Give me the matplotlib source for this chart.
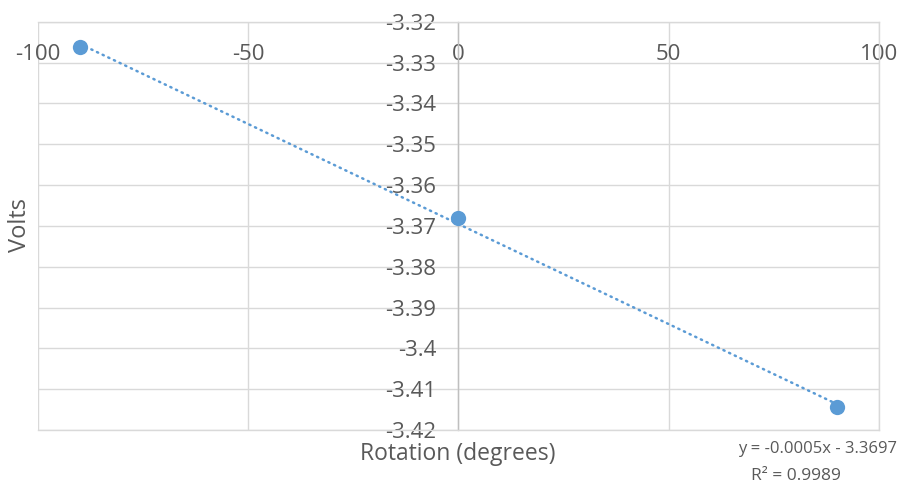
import numpy as np
import matplotlib
matplotlib.use("Agg")
import matplotlib.pyplot as plt

# Measured rotation angle vs. output voltage
rotation_deg = [-90, 0, 90]
volts = [-3.3262, -3.3681, -3.4144]

x_ticks = [-100, -50, 0, 50, 100]
y_ticks = [-3.32, -3.33, -3.34, -3.35, -3.36, -3.37, -3.38, -3.39, -3.40, -3.41, -3.42]
y_tick_labels = ["-3.32", "-3.33", "-3.34", "-3.35", "-3.36", "-3.37", "-3.38",
                 "-3.39", "-3.4", "-3.41", "-3.42"]

blue = "#5B9BD5"
text_gray = "#595959"
grid_gray = "#D9D9D9"

plt.rcParams["font.family"] = ["Open Sans", "DejaVu Sans"]

fig = plt.figure(figsize=(9.04, 4.92), dpi=100)
ax = fig.add_axes([38 / 904, 1 - 430 / 492, (879 - 38) / 904, (430 - 21.7) / 492])

ax.set_xlim(-100, 100)
ax.set_ylim(-3.42, -3.32)

# gridlines
ax.set_xticks(x_ticks)
ax.set_yticks(y_ticks)
ax.grid(True, color=grid_gray, linewidth=1.0)
ax.set_axisbelow(True)

for side in ["top", "right", "bottom"]:
    ax.spines[side].set_color(grid_gray)
    ax.spines[side].set_linewidth(1.0)
ax.spines["left"].set_position(("data", 0))
ax.spines["left"].set_color("#BFBFBF")
ax.spines["left"].set_linewidth(1.0)

# x labels hang just under the top edge, y labels sit left of the x=0 axis
ax.xaxis.set_ticks_position("top")
ax.tick_params(axis="x", top=False, bottom=False, labeltop=True, labelbottom=False,
               length=0, pad=-31, labelsize=16, labelcolor=text_gray)
ax.tick_params(axis="y", left=False, right=False, length=0, pad=16,
               labelsize=16, labelcolor=text_gray)
ax.set_xticklabels([str(t) for t in x_ticks])
ax.set_yticklabels(y_tick_labels)

# linear trendline
slope, intercept = np.polyfit(rotation_deg, volts, 1)
xs = np.array([min(rotation_deg), max(rotation_deg)])
ax.plot(xs, slope * xs + intercept, color=blue, linewidth=1.8,
        linestyle=(0, (0.5, 2.0)), dash_capstyle="round", zorder=2)

ax.plot(rotation_deg, volts, "o", color=blue, markersize=11, zorder=3,
        markeredgewidth=0)

fig.text(458 / 904, 1 - 454 / 492, "Rotation (degrees)", ha="center", va="center",
         fontsize=16.5, color=text_gray)
fig.text(20 / 904, 1 - 225 / 492, "Volts", ha="center", va="center", rotation=90,
         fontsize=17, color=text_gray)

fig.text(818 / 904, 1 - 449 / 492, "y = -0.0005x - 3.3697", ha="center", va="center",
         fontsize=12, color=text_gray)
fig.text(796 / 904, 1 - 476 / 492, "R² = 0.9989", ha="center", va="center",
         fontsize=12.5, color=text_gray)

fig.savefig("out.png", dpi=100)
